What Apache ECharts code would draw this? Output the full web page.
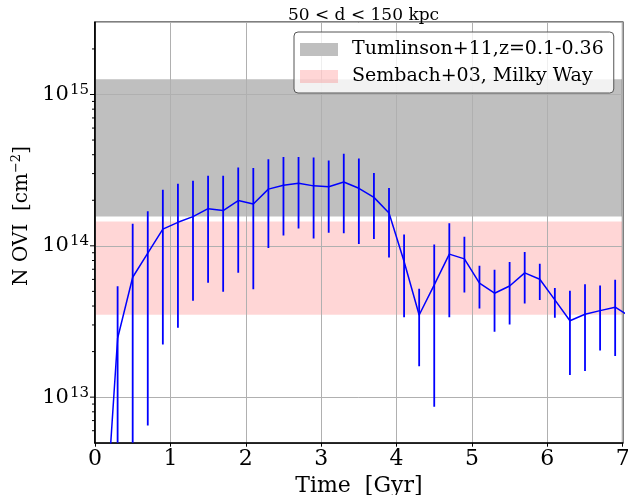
<!DOCTYPE html>
<html>
<head>
<meta charset="utf-8">
<script src="https://cdn.jsdelivr.net/npm/echarts@6/dist/echarts.min.js"></script>
<style>html,body{margin:0;padding:0;background:#fff;}#c{width:628px;height:495px;}</style>
</head>
<body>
<div id="c"></div>
<script>
// ---- data ----
const times = [0.1,0.3,0.5,0.7,0.9,1.1,1.3,1.5,1.7,1.9,2.1,2.3,2.5,2.7,2.9,3.1,3.3,3.5,3.7,3.9,4.1,4.3,4.5,4.7,4.9,5.1,5.3,5.5,5.7,5.9,6.1,6.3,6.5,6.7,6.9,7.1];
const nOVI = [7.4e11,2.45e13,6.2e13,8.95e13,1.29e14,1.43e14,1.56e14,1.76e14,1.71e14,1.99e14,1.89e14,2.37e14,2.51e14,2.59e14,2.49e14,2.46e14,2.64e14,2.40e14,2.09e14,1.65e14,7.87e13,3.49e13,5.52e13,8.81e13,8.20e13,5.66e13,4.86e13,5.43e13,6.62e13,6.01e13,4.39e13,3.2e13,3.53e13,3.73e13,3.93e13,3.4e13];
const errLow = [1e11,2e12,2e12,6.5e12,2.23e13,2.88e13,4.33e13,5.71e13,4.98e13,6.65e13,5.16e13,9.66e13,1.17e14,1.30e14,1.12e14,1.22e14,1.21e14,1.03e14,1.11e14,8.38e13,3.37e13,1.60e13,8.63e12,3.37e13,4.91e13,3.86e13,2.71e13,3.02e13,4.15e13,4.39e13,3.35e13,1.40e13,1.49e13,2.03e13,1.87e13,2e13];
const errHigh = [3e12,5.4e13,1.4e14,1.69e14,2.35e14,2.57e14,2.69e14,2.91e14,2.91e14,3.29e14,3.27e14,3.73e14,3.87e14,3.87e14,3.83e14,3.67e14,4.06e14,3.77e14,3.03e14,2.41e14,1.19e14,5.21e13,1.02e14,1.41e14,1.15e14,7.38e13,6.94e13,7.83e13,9.09e13,7.6e13,5.27e13,5.04e13,5.57e13,5.46e13,5.96e13,5e13];
const tumlinsonBand = [1.56e14, 1.26e15];
const sembachBand = [3.5e13, 1.45e14];
const xTicks = [0,1,2,3,4,5,6,7];
const yMajorTicks = [1e13,1e14,1e15];
const yMinorTicks = [6e12,7e12,8e12,9e12,2e13,3e13,4e13,5e13,6e13,7e13,8e13,9e13,2e14,3e14,4e14,5e14,6e14,7e14,8e14,9e14,2e15];
const legendNames = ['Tumlinson+11,z=0.1-0.36', 'Sembach+03, Milky Way'];

const SERIF = '"DejaVu Serif", serif';
const grayCol = '#bfbfbf';
const pinkCol = 'rgba(255,0,0,0.16)';

const chart = echarts.init(document.getElementById('c'), null, {renderer:'canvas'});
const lineData = times.map((t,i)=>[t, nOVI[i]]);
const errData = times.map((t,i)=>[t, errLow[i], errHigh[i]]);
const tickData = yMajorTicks.map(v => [0, v, 5]).concat(yMinorTicks.map(v => [0, v, 3]));

function isPow10(v){ const l = Math.log10(v); return Math.abs(l - Math.round(l)) < 1e-6; }

chart.setOption({
  animation: false,
  backgroundColor: '#fff',
  title: {
    text: '50 < d < 150 kpc',
    left: 358.5, top: 2, textAlign: 'center',
    textStyle: {fontFamily: SERIF, fontSize: 17, fontWeight: 'normal', color: '#000'}
  },
  grid: {left: 95, top: 22.3, width: 527.7, height: 420.4, outerBoundsMode: 'none', containLabel: false,
    show: true, borderColor: '#000', borderWidth: 1.6, backgroundColor: 'transparent', z: 3},
  legend: {
    orient: 'vertical', left: 294, top: 32,
    padding: [8, 10, 7, 6],
    itemWidth: 38, itemHeight: 13, itemGap: 8,
    backgroundColor: 'rgba(255,255,255,0.8)', borderColor: '#555', borderWidth: 1, borderRadius: 4,
    textStyle: {fontFamily: SERIF, fontSize: 19, color: '#000', padding: [0,0,0,9]},
    data: [
      {name: legendNames[0], icon: 'rect', itemStyle: {color: grayCol}},
      {name: legendNames[1], icon: 'rect', itemStyle: {color: pinkCol}}
    ],
    selectedMode: false, z: 10
  },
  xAxis: {
    type: 'value', min: 0, max: 7, interval: 1,
    name: 'Time  [Gyr]', nameLocation: 'middle', nameGap: 30,
    nameTextStyle: {fontFamily: SERIF, fontSize: 22, color: '#000'},
    axisLine: {show: true, lineStyle: {color: '#000', width: 1.6}},
    axisTick: {show: true, length: 4, lineStyle: {color: '#000', width: 1}},
    axisLabel: {fontFamily: SERIF, fontSize: 22, color: '#000', margin: 6,
      formatter: v => xTicks.indexOf(v) >= 0 ? String(v) : ''},
    splitLine: {show: true, lineStyle: {color: '#b0b0b0', width: 1}},
    z: 3
  },
  yAxis: {
    type: 'log', logBase: 10, min: 5e12, max: 3e15,
    axisLine: {show: true, lineStyle: {color: '#000', width: 1.6}},
    axisTick: {show: false},
    axisLabel: {
      color: '#000', margin: 6,
      formatter: v => isPow10(v) ? '{b|10}{s|' + Math.round(Math.log10(v)) + '}' : '',
      rich: {
        b: {fontFamily: SERIF, fontSize: 21, color: '#000', lineHeight: 24},
        s: {fontFamily: SERIF, fontSize: 15, color: '#000', verticalAlign: 'top', lineHeight: 24, padding: [0,0,6,1]}
      }
    },
    splitLine: {show: true, lineStyle: {color: '#b0b0b0', width: 1}},
    z: 3
  },
  graphic: [{
    type: 'text', x: 22, y: 216, rotation: Math.PI/2,
    style: {
      text: '{n|N OVI  [cm}{s|−2}{n|]}',
      align: 'center', verticalAlign: 'middle',
      rich: {
        n: {fontFamily: SERIF, fontSize: 20, fill: '#000', lineHeight: 24},
        s: {fontFamily: SERIF, fontSize: 13, fill: '#000', verticalAlign: 'top', lineHeight: 24}
      }
    }
  }],
  series: [
    {
      name: legendNames[0], type: 'line', data: [], z: -1,
      itemStyle: {color: grayCol},
      markArea: {silent: true, itemStyle: {color: grayCol}, data: [[{yAxis: tumlinsonBand[0]}, {yAxis: tumlinsonBand[1]}]]}
    },
    {
      name: legendNames[1], type: 'line', data: [], z: -1,
      itemStyle: {color: pinkCol},
      markArea: {silent: true, itemStyle: {color: pinkCol}, data: [[{yAxis: sembachBand[0]}, {yAxis: sembachBand[1]}]]}
    },
    {
      name: 'err', type: 'custom', data: errData, clip: true, z: 4,
      renderItem: (params, api) => {
        const p1 = api.coord([api.value(0), api.value(1)]);
        const p2 = api.coord([api.value(0), api.value(2)]);
        return {type: 'line', shape: {x1: p1[0], y1: p1[1], x2: p2[0], y2: p2[1]}, style: {stroke: '#0000ff', lineWidth: 1.8}};
      }
    },
    {
      name: 'N', type: 'line', data: lineData, showSymbol: false, clip: true, z: 5,
      lineStyle: {color: '#0000ff', width: 1.5}, itemStyle: {color: '#0000ff'}
    },
    {
      name: 'yticks', type: 'custom', data: tickData, clip: false, z: 6, silent: true,
      renderItem: (params, api) => {
        const p = api.coord([0, api.value(1)]);
        const len = api.value(2);
        return {type: 'line', shape: {x1: p[0] - len, y1: p[1], x2: p[0], y2: p[1]}, style: {stroke: '#000', lineWidth: 1}};
      }
    }
  ]
});
</script>
</body>
</html>
